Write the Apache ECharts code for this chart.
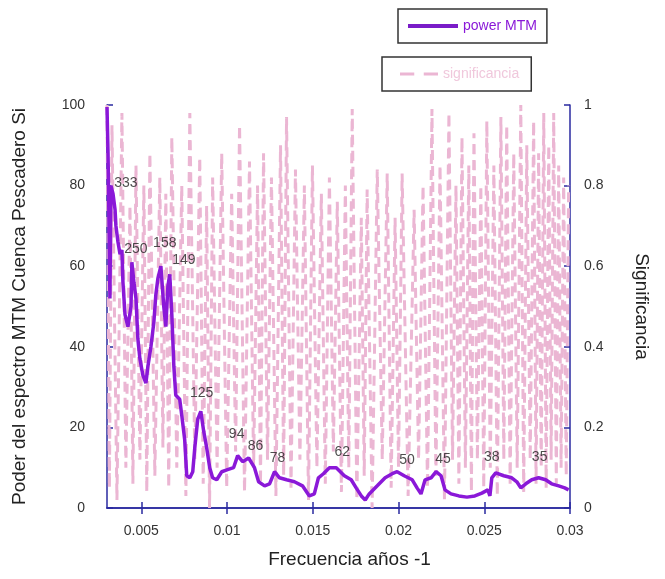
<!DOCTYPE html>
<html>
<head>
<meta charset="utf-8">
<script src="https://cdn.jsdelivr.net/npm/echarts@6/dist/echarts.min.js"></script>
<style>
html,body{margin:0;padding:0;background:#fff;}
#chart{width:665px;height:579px;}
</style>
</head>
<body>
<div id="chart"></div>
<script>
// ---- data ----
const powerFreq = [0.00300,0.00306,0.00312,0.00317,0.00323,0.00335,0.00347,0.00352,0.00364,0.00376,0.00387,0.00393,0.00405,0.00422,0.00440,0.00445,0.00457,0.00469,0.00480,0.00492,0.00509,0.00527,0.00538,0.00556,0.00573,0.00585,0.00597,0.00614,0.00631,0.00643,0.00655,0.00666,0.00678,0.00690,0.00701,0.00724,0.00736,0.00753,0.00765,0.00783,0.00800,0.00812,0.00829,0.00847,0.00864,0.00881,0.00899,0.00916,0.00940,0.00969,0.01003,0.01038,0.01062,0.01091,0.01126,0.01160,0.01184,0.01219,0.01248,0.01277,0.01306,0.01347,0.01393,0.01440,0.01480,0.01509,0.01533,0.01562,0.01597,0.01637,0.01684,0.01724,0.01753,0.01783,0.01806,0.01829,0.01876,0.01922,0.01963,0.01992,0.02033,0.02080,0.02108,0.02131,0.02155,0.02190,0.02219,0.02248,0.02271,0.02306,0.02352,0.02399,0.02445,0.02486,0.02521,0.02533,0.02544,0.02567,0.02614,0.02660,0.02690,0.02713,0.02742,0.02777,0.02817,0.02858,0.02893,0.02934,0.02969,0.02992];
const powerVal = [99.5,88,70,52,80,78,74,70,66,63,64,56,48,45,50,61,56,52,42,37,33,31,35,40,46,53,57,60,50,45,55,58,48,35,28,27,23,17,8,7.5,9,15,22,24,19,15,10,7.5,7,9,9.5,10,13,11.5,12.4,10,6.5,5.5,6,9,7.5,7,6.5,5.5,3,3.5,7.5,8.5,10,10,8,7,5,3,2,3.5,5.5,7.5,8.5,9,8,7,5,3.5,7,7.5,9,8,4.5,3.5,3,2.7,3,3.7,4.5,3,7.5,8.7,8,7.5,6.5,5,6,7,7.5,7,6,5.5,5,4.5];

const sigFreq = [0.00300,0.00314,0.00329,0.00358,0.00387,0.00410,0.00434,0.00451,0.00469,0.00492,0.00515,0.00532,0.00550,0.00579,0.00608,0.00626,0.00643,0.00660,0.00678,0.00707,0.00736,0.00760,0.00783,0.00812,0.00841,0.00861,0.00881,0.00898,0.00916,0.00942,0.00969,0.00998,0.01027,0.01050,0.01073,0.01102,0.01131,0.01155,0.01178,0.01195,0.01213,0.01236,0.01259,0.01285,0.01312,0.01330,0.01347,0.01373,0.01399,0.01425,0.01451,0.01475,0.01498,0.01524,0.01550,0.01573,0.01597,0.01620,0.01643,0.01667,0.01690,0.01710,0.01730,0.01757,0.01783,0.01800,0.01817,0.01846,0.01876,0.01905,0.01934,0.01957,0.01980,0.02000,0.02021,0.02056,0.02091,0.02117,0.02143,0.02169,0.02195,0.02218,0.02242,0.02268,0.02294,0.02315,0.02335,0.02352,0.02370,0.02390,0.02410,0.02425,0.02440,0.02460,0.02480,0.02497,0.02515,0.02535,0.02556,0.02576,0.02597,0.02614,0.02631,0.02651,0.02672,0.02692,0.02713,0.02730,0.02748,0.02768,0.02788,0.02802,0.02817,0.02832,0.02847,0.02861,0.02876,0.02890,0.02905,0.02920,0.02934,0.02948,0.02963,0.02978,0.02992];
const sigVal = [1.0,0.05,0.95,0.02,0.98,0.10,0.75,0.06,0.85,0.12,0.80,0.04,0.88,0.08,0.82,0.15,0.78,0.05,0.92,0.10,0.80,0.03,0.98,0.12,0.87,0.06,0.75,0.00,0.82,0.10,0.88,0.05,0.78,0.14,0.95,0.04,0.86,0.10,0.80,0.06,0.88,0.12,0.82,0.03,0.90,0.08,0.97,0.05,0.84,0.12,0.80,0.02,0.85,0.10,0.78,0.06,0.82,0.14,0.76,0.04,0.80,0.10,0.99,0.02,0.72,0.08,0.79,0.00,0.84,0.12,0.83,0.05,0.72,0.10,0.83,0.03,0.74,0.12,0.80,0.05,0.99,0.08,0.85,0.02,0.98,0.12,0.80,0.06,0.92,0.10,0.85,0.04,0.93,0.12,0.80,0.05,0.96,0.10,0.85,0.03,0.97,0.12,0.95,0.06,0.88,0.10,1.0,0.04,0.90,0.12,0.96,0.06,0.88,0.10,0.98,0.05,0.90,0.12,0.98,0.06,0.85,0.10,0.82,0.08,0.80];

const peakText = ['333','250','158','149','125','94','86','78','62','50','45','38','35'];
const peakFreq = [0.00410,0.00469,0.00637,0.00748,0.00852,0.01056,0.01166,0.01294,0.01672,0.02050,0.02259,0.02544,0.02823];
const peakPow  = [80.6,64.3,65.8,61.5,28.5,18.4,15.4,12.4,13.9,11.9,12.2,12.7,12.7];

const xTicks = [0.005,0.01,0.015,0.02,0.025,0.03];

// ---- chart ----
const chart = echarts.init(document.getElementById('chart'), null, {renderer:'canvas'});
const axisColor = '#2a2aa0';
const font = 'Liberation Sans, Arial, sans-serif';
const purple = '#8a18d8';
const pink = '#ebb6d3';

const option = {
  animation:false,
  backgroundColor:'#fff',
  grid:{left:107,right:95,top:105,bottom:71,containLabel:false},
  legend:[
    {data:[{name:'power MTM',icon:'rect'}],left:398,top:9,orient:'horizontal',
     padding:[10,10,10,10],itemWidth:50,itemHeight:4,itemGap:5,symbolKeepAspect:false,
     itemStyle:{color:'#7a1cc8'},
     borderColor:'#333',borderWidth:1.5,
     textStyle:{color:'#8a18d8',fontSize:14,fontFamily:font}},
    {data:[{name:'significancia',icon:'path://M0,0h12v3h-12z M20,0h12v3h-12z'}],left:382,top:57,orient:'horizontal',
     padding:[10,12,10,18],itemWidth:38,itemHeight:3,itemGap:6,symbolKeepAspect:false,
     itemStyle:{color:pink},
     borderColor:'#333',borderWidth:1.5,
     textStyle:{color:'#f0c8dc',fontSize:14,fontFamily:font}}
  ],
  xAxis:[
    {type:'value',min:0.003,max:0.03,position:'bottom',
     name:'Frecuencia años -1',nameLocation:'middle',nameGap:42,
     nameTextStyle:{fontSize:19,color:'#222',fontFamily:font,padding:[0,0,0,22]},
     axisLine:{show:true,lineStyle:{color:axisColor,width:1.5}},
     axisTick:{show:true,inside:true,length:6,customValues:xTicks,lineStyle:{color:axisColor,width:1.5}},
     axisLabel:{show:true,customValues:xTicks,margin:16,fontSize:14,color:'#333',fontFamily:font,
       formatter:v=>String(+v.toFixed(3))},
     splitLine:{show:false}},
    {type:'value',min:0.003,max:0.03,position:'top',
     axisLine:{show:true,lineStyle:{color:axisColor,width:1.5}},
     axisTick:{show:true,inside:true,length:6,customValues:xTicks,lineStyle:{color:axisColor,width:1.5}},
     axisLabel:{show:false},splitLine:{show:false}}
  ],
  yAxis:[
    {type:'value',min:0,max:100,interval:20,position:'left',
     name:'Poder del espectro MTM Cuenca Pescadero Si',nameLocation:'middle',nameGap:78,
     nameTextStyle:{fontSize:19,color:'#222',fontFamily:font},
     axisLine:{show:true,lineStyle:{color:axisColor,width:1.5}},
     axisTick:{show:true,inside:true,length:6,lineStyle:{color:axisColor,width:1.5}},
     axisLabel:{fontSize:14,color:'#333',margin:22,fontFamily:font},
     splitLine:{show:false}},
    {type:'value',min:0,max:1,interval:0.2,position:'right',
     name:'Significancia',nameLocation:'middle',nameGap:62,nameRotate:-90,
     nameTextStyle:{fontSize:19,color:'#222',fontFamily:font},
     axisLine:{show:true,lineStyle:{color:axisColor,width:1.5}},
     axisTick:{show:true,inside:true,length:6,lineStyle:{color:axisColor,width:1.5}},
     axisLabel:{fontSize:14,color:'#333',margin:14,fontFamily:font},
     splitLine:{show:false}}
  ],
  series:[
    {name:'significancia',type:'line',xAxisIndex:0,yAxisIndex:1,symbol:'none',
     data:sigFreq.map((f,i)=>[f,sigVal[i]]),
     lineStyle:{color:pink,width:3,type:[10,6]},itemStyle:{color:pink},z:2},
    {name:'power MTM',type:'line',xAxisIndex:0,yAxisIndex:0,symbol:'none',
     data:powerFreq.map((f,i)=>[f,powerVal[i]]),
     lineStyle:{color:purple,width:3.5},itemStyle:{color:purple},z:3},
    {name:'labels',type:'scatter',xAxisIndex:0,yAxisIndex:0,symbolSize:0,silent:true,
     data:peakFreq.map((f,i)=>({value:[f,peakPow[i]],label:{formatter:peakText[i]}})),
     label:{show:true,position:'inside',fontSize:14,color:'#222',fontFamily:font},z:4}
  ]
};
chart.setOption(option);
</script>
</body>
</html>
